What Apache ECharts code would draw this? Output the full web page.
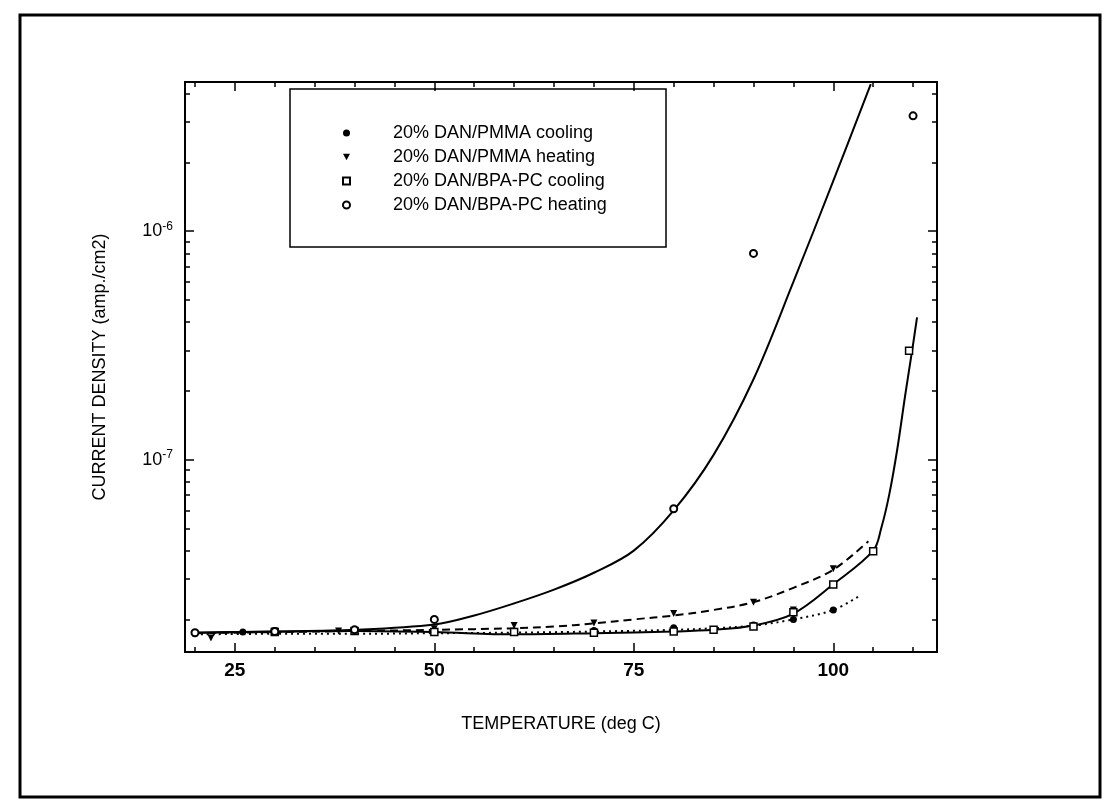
<!DOCTYPE html>
<html>
<head>
<meta charset="utf-8">
<script src="https://cdn.jsdelivr.net/npm/echarts@6/dist/echarts.min.js"></script>
<style>
  html, body { margin: 0; padding: 0; background: #fff; }
  #chart { width: 1117px; height: 803px; }
</style>
</head>
<body>
<div id="chart"></div>
<script>
// Axis ticks and labels
const xMajorTicks = [25, 50, 75, 100];
const xMinorTicks = [20, 25, 30, 35, 40, 45, 50, 55, 60, 65, 70, 75, 80, 85, 90, 95, 100, 105, 110];
const yMajorTicks = [1e-7, 1e-6];
const yMinorTicks = [2e-8, 3e-8, 4e-8, 5e-8, 6e-8, 7e-8, 8e-8, 9e-8,
                     2e-7, 3e-7, 4e-7, 5e-7, 6e-7, 7e-7, 8e-7, 9e-7,
                     2e-6, 3e-6, 4e-6];

// Measured points
const pmmaCoolT  = [20, 26, 30, 40, 50, 60, 70, 80, 90, 95, 100];
const pmmaCoolJ  = [1.73e-8, 1.76e-8, 1.77e-8, 1.80e-8, 1.78e-8, 1.78e-8, 1.79e-8, 1.84e-8, 1.89e-8, 2.0e-8, 2.2e-8];
const pmmaHeatT  = [22, 30, 38, 50, 60, 70, 80, 90, 95, 100];
const pmmaHeatJ  = [1.66e-8, 1.78e-8, 1.78e-8, 1.82e-8, 1.88e-8, 1.93e-8, 2.12e-8, 2.38e-8, 2.2e-8, 3.33e-8];
const bpaCoolT   = [30, 40, 50, 60, 70, 80, 85, 90, 95, 100, 105, 109.5];
const bpaCoolJ   = [1.76e-8, 1.78e-8, 1.76e-8, 1.76e-8, 1.75e-8, 1.77e-8, 1.8e-8, 1.86e-8, 2.15e-8, 2.84e-8, 3.98e-8, 3.0e-7];
const bpaHeatT   = [20, 30, 40, 50, 80, 90, 110];
const bpaHeatJ   = [1.75e-8, 1.77e-8, 1.8e-8, 2.0e-8, 6.1e-8, 8.0e-7, 3.2e-6];

// Fitted curves
const fitBpaHeatT = [20, 30, 40, 50, 55, 60, 65, 70, 75, 80, 85, 90, 95, 100, 104.7];
const fitBpaHeatJ = [1.75e-8, 1.77e-8, 1.8e-8, 1.9e-8, 2.08e-8, 2.35e-8, 2.7e-8, 3.2e-8, 4.0e-8, 6.0e-8, 1.05e-7, 2.25e-7, 6.0e-7, 1.66e-6, 4.4e-6];
const fitBpaCoolT = [20, 40, 50, 60, 70, 80, 85, 90, 95, 100, 105, 106, 107, 108, 109, 110, 110.5];
const fitBpaCoolJ = [1.75e-8, 1.78e-8, 1.76e-8, 1.72e-8, 1.74e-8, 1.77e-8, 1.8e-8, 1.88e-8, 2.12e-8, 2.85e-8, 4.0e-8, 5.0e-8, 7.0e-8, 1.1e-7, 1.9e-7, 3.2e-7, 4.2e-7];
const fitPmmaHeatT = [20, 30, 40, 50, 60, 65, 70, 75, 80, 85, 90, 95, 100, 104.4];
const fitPmmaHeatJ = [1.74e-8, 1.76e-8, 1.78e-8, 1.8e-8, 1.83e-8, 1.86e-8, 1.92e-8, 2.0e-8, 2.08e-8, 2.2e-8, 2.38e-8, 2.75e-8, 3.3e-8, 4.4e-8];
const fitPmmaCoolT = [20, 30, 40, 50, 60, 70, 80, 85, 90, 95, 100, 103.4];
const fitPmmaCoolJ = [1.72e-8, 1.73e-8, 1.73e-8, 1.74e-8, 1.75e-8, 1.77e-8, 1.8e-8, 1.83e-8, 1.88e-8, 2.0e-8, 2.2e-8, 2.55e-8];

const seriesNames = [
  '20% DAN/PMMA cooling',
  '20% DAN/PMMA heating',
  '20% DAN/BPA-PC cooling',
  '20% DAN/BPA-PC heating'
];

const FONT = '"Liberation Sans", Arial, Helvetica, sans-serif';
const X_MIN = 18.75, X_MAX = 113;
const Y_MIN = 1.44e-8, Y_MAX = 4.5e-6;
const DOWN_TRIANGLE = 'path://M0,0 L10,0 L5,9 Z';

function pairs(xs, ys) { return xs.map((x, i) => [x, ys[i]]); }

function xAxisDef(position, ticks, len, withLabels) {
  return {
    type: 'value', position: position, min: X_MIN, max: X_MAX,
    axisLine: { show: false },
    splitLine: { show: false },
    axisTick: { show: true, inside: true, length: len, customValues: ticks,
                lineStyle: { color: '#000', width: 1.5 } },
    axisLabel: withLabels ? {
      show: true, customValues: xMajorTicks, margin: 9,
      fontFamily: FONT, fontSize: 19, fontWeight: 'bold', color: '#000'
    } : { show: false },
    name: withLabels ? 'TEMPERATURE (deg C)' : '',
    nameLocation: 'middle', nameGap: 63,
    nameTextStyle: { fontFamily: FONT, fontSize: 18, color: '#000' }
  };
}

function yAxisDef(position, ticks, len, withLabels) {
  return {
    type: 'log', logBase: 10, position: position, min: Y_MIN, max: Y_MAX,
    axisLine: { show: false },
    splitLine: { show: false },
    minorTick: { show: false },
    axisTick: { show: true, inside: true, length: len, customValues: ticks,
                lineStyle: { color: '#000', width: 1.5 } },
    axisLabel: withLabels ? {
      show: true, customValues: yMajorTicks, margin: 12,
      formatter: v => '{b|10}{s|' + Math.round(Math.log10(v)) + '}',
      rich: {
        b: { fontFamily: FONT, fontSize: 18, color: '#000', lineHeight: 22 },
        s: { fontFamily: FONT, fontSize: 12, color: '#000', lineHeight: 12, verticalAlign: 'top' }
      }
    } : { show: false },
    name: withLabels ? 'CURRENT DENSITY (amp./cm2)' : '',
    nameLocation: 'middle', nameGap: 76, nameRotate: 90,
    nameTextStyle: { fontFamily: FONT, fontSize: 18, color: '#000' }
  };
}

function fitLine(xs, ys, type) {
  return {
    type: 'line', xAxisIndex: 0, yAxisIndex: 0,
    data: pairs(xs, ys), smooth: 0.35, showSymbol: false, silent: true,
    lineStyle: { color: '#000', width: 2, type: type },
    z: 2
  };
}

function points(name, xs, ys, symbol, style) {
  return {
    type: 'scatter', name: name, xAxisIndex: 0, yAxisIndex: 0,
    data: pairs(xs, ys), symbol: symbol, symbolSize: 7,
    itemStyle: Object.assign({ opacity: 1 }, style), z: 3
  };
}

const chart = echarts.init(document.getElementById('chart'));
chart.setOption({
  backgroundColor: '#fff',
  animation: false,
  grid: {
    left: 185, right: 180, top: 82, bottom: 151,
    show: true, borderColor: '#000', borderWidth: 2, backgroundColor: 'transparent'
  },
  xAxis: [
    xAxisDef('bottom', xMajorTicks, 9, true),
    xAxisDef('bottom', xMinorTicks, 5, false),
    xAxisDef('top', xMajorTicks, 9, false),
    xAxisDef('top', xMinorTicks, 5, false)
  ],
  yAxis: [
    yAxisDef('left', yMajorTicks, 9, true),
    yAxisDef('left', yMinorTicks, 5, false),
    yAxisDef('right', yMajorTicks, 9, false),
    yAxisDef('right', yMinorTicks, 5, false)
  ],
  legend: {
    orient: 'vertical', left: 342, top: 121, padding: 0,
    itemWidth: 7, itemHeight: 7, itemGap: 0,
    selectedMode: false,
    textStyle: { fontFamily: FONT, fontSize: 18, color: '#000', lineHeight: 24, padding: [0, 0, 0, 38] },
    data: seriesNames
  },
  graphic: [
    { type: 'rect', z: 10, silent: true,
      shape: { x: 20, y: 15, width: 1080, height: 782 },
      style: { fill: 'none', stroke: '#000', lineWidth: 3 } },
    { type: 'rect', z: 10, silent: true,
      shape: { x: 290, y: 89, width: 376, height: 158 },
      style: { fill: 'none', stroke: '#000', lineWidth: 1.5 } }
  ],
  series: [
    fitLine(fitBpaHeatT, fitBpaHeatJ, 'solid'),
    fitLine(fitBpaCoolT, fitBpaCoolJ, 'solid'),
    fitLine(fitPmmaHeatT, fitPmmaHeatJ, [8, 5]),
    fitLine(fitPmmaCoolT, fitPmmaCoolJ, [2, 4]),
    points(seriesNames[0], pmmaCoolT, pmmaCoolJ, 'circle', { color: '#000' }),
    points(seriesNames[1], pmmaHeatT, pmmaHeatJ, DOWN_TRIANGLE, { color: '#000' }),
    points(seriesNames[2], bpaCoolT, bpaCoolJ, 'rect', { color: '#fff', borderColor: '#000', borderWidth: 1.5 }),
    points(seriesNames[3], bpaHeatT, bpaHeatJ, 'emptyCircle', { color: '#000', borderColor: '#000', borderWidth: 1.5 })
  ]
});
</script>
</body>
</html>
